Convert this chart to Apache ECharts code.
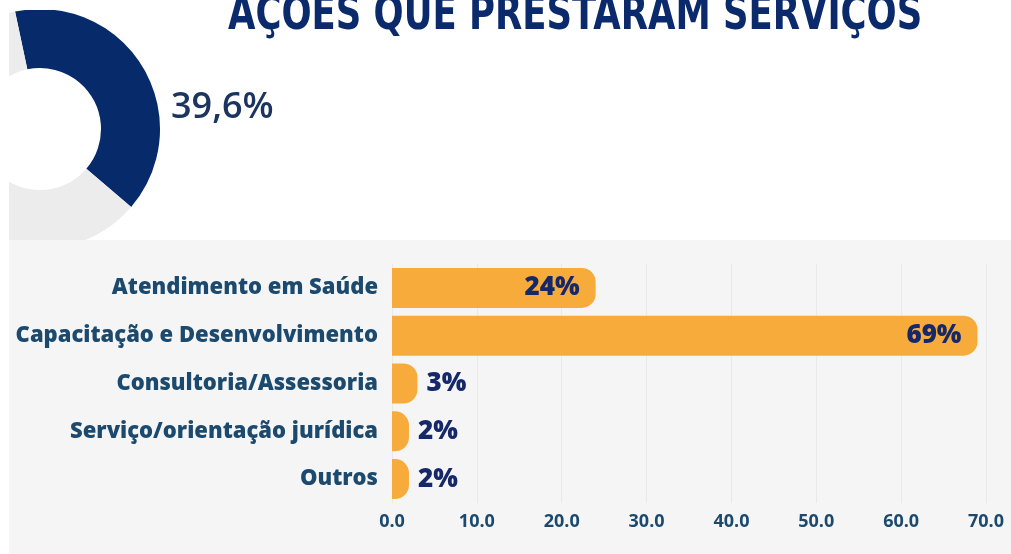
<!DOCTYPE html>
<html><head><meta charset="utf-8">
<script src="https://cdn.jsdelivr.net/npm/echarts@6/dist/echarts.min.js"></script>
<style>html,body{margin:0;padding:0;background:#fff}#c{width:1011px;height:554px}</style>
</head><body><div id="c"></div>
<script>
const titleText = 'AÇÕES QUE PRESTARAM SERVIÇOS';
const donutNames = ['Prestaram serviços', 'Demais'];
const donutValues = [39.6, 60.4];
const categories = ['Atendimento em Saúde', 'Capacitação e Desenvolvimento', 'Consultoria/Assessoria', 'Serviço/orientação jurídica', 'Outros'];
const values = [24, 69, 3, 2, 2];
const xTicks = [0, 10, 20, 30, 40, 50, 60, 70];

const chart = echarts.init(document.getElementById('c'));
const donutLabel = String(donutValues[0]).replace('.', ',') + '%';
chart.setOption({
  backgroundColor: '#ffffff',
  animation: false,
  graphic: [
    { type: 'rect', z: 1, shape: { x: 9, y: 240, width: 1002, height: 314 }, style: { fill: '#f5f5f5' } },
    { type: 'rect', z: 5, shape: { x: 0, y: 0, width: 9, height: 554 }, style: { fill: '#ffffff' } },
    { type: 'rect', z: 5, shape: { x: 0, y: 0, width: 200, height: 10 }, style: { fill: '#ffffff' } },
    { type: 'text', z: 6, x: 228, y: 41, scaleX: 0.738,
      style: { text: titleText, font: "bold 48px 'DejaVu Sans'", fill: '#0b2a6b', textVerticalAlign: 'bottom', verticalAlign: 'bottom' } },
    { type: 'text', z: 5, left: 171, top: 90, style: { text: donutLabel, font: "600 36px 'Open Sans'", fill: '#1b3560' } }
  ],
  grid: { left: 392, right: 25, top: 264, bottom: 51 },
  xAxis: {
    type: 'value', min: 0, max: 70, interval: 10, z: 1.5,
    axisLine: { show: false }, axisTick: { show: false },
    splitLine: { lineStyle: { color: '#e9e9e9', width: 1 } },
    axisLabel: { margin: 10, color: '#1c4a6e', fontFamily: "'Open Sans'", fontWeight: 'bold', fontSize: 18,
      formatter: v => xTicks.includes(v) ? v.toFixed(1) : '' }
  },
  yAxis: {
    type: 'category', data: categories, inverse: true, z: 1.5,
    axisLine: { show: false }, axisTick: { show: false },
    axisLabel: { margin: 14, color: '#1c4a6e', fontFamily: "'Open Sans'", fontWeight: 800, fontSize: 22 }
  },
  series: [
    {
      type: 'pie', z: 0, center: [40, 129], radius: [61, 120], startAngle: 102, clockwise: true,
      label: { show: false }, labelLine: { show: false }, silent: true,
      data: donutNames.map((n, i) => ({ name: n, value: donutValues[i], itemStyle: { color: i === 0 ? '#072a6a' : '#ececec' } }))
    },
    {
      type: 'bar', z: 2, data: values.map(v => ({
        value: v,
        label: { position: v > 10 ? 'insideRight' : 'right', distance: v > 10 ? 16 : 9 }
      })),
      barWidth: 40,
      itemStyle: { color: '#f7ab3a', borderRadius: [0, 14, 14, 0] },
      label: { show: true, formatter: p => p.value + '%', color: '#15286a', fontFamily: "'Open Sans'", fontWeight: 800, fontSize: 26 }
    }
  ]
});
</script></body></html>
